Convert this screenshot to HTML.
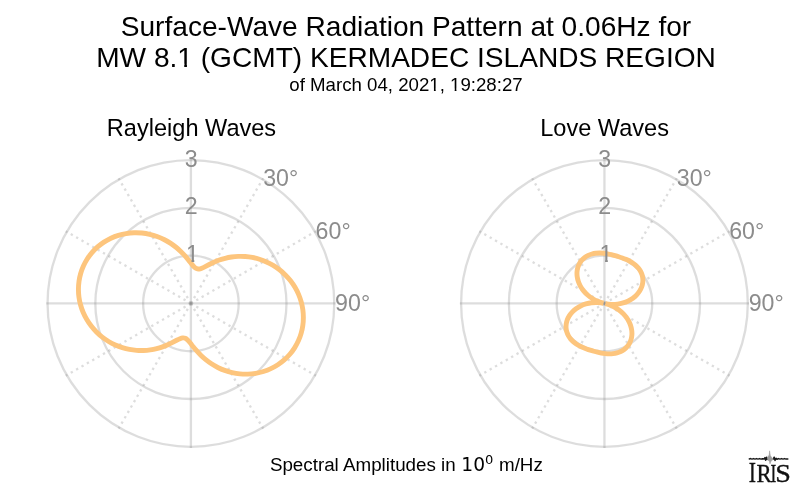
<!DOCTYPE html>
<html><head><meta charset="utf-8"><title>Surface-Wave Radiation Pattern</title>
<style>
html,body{margin:0;padding:0;background:#fff;}
svg{display:block}
text{font-family:"Liberation Sans",sans-serif;}
</style></head><body>
<svg width="800" height="493" viewBox="0 0 800 493">
<rect width="800" height="493" fill="#fff"/>
<g fill="#000" text-anchor="middle">
<text id="t1" x="406" y="36.2" font-size="28.1">Surface-Wave Radiation Pattern at 0.06Hz for</text>
<text id="t2" x="406" y="66.5" font-size="28.1">MW 8.1 (GCMT) KERMADEC ISLANDS REGION</text>
<text id="t3" x="406" y="90.6" font-size="18.67">of March 04, 2021, 19:28:27</text>
<text id="t4" x="191.5" y="136.3" font-size="23.55">Rayleigh Waves</text>
<text id="t5" x="604.6" y="136.3" font-size="23.55">Love Waves</text>
</g>
<g fill="#fff"><rect x="178.42" y="63.69" width="5.82" height="4.50"/><rect x="186.94" y="63.69" width="5.62" height="4.50"/><rect x="430.06" y="88.73" width="3.86" height="2.99"/><rect x="435.71" y="88.73" width="3.73" height="2.99"/><rect x="450.80" y="88.73" width="3.86" height="2.99"/><rect x="456.45" y="88.73" width="3.73" height="2.99"/></g>
<g fill="none" stroke="#808080" stroke-opacity="0.27" stroke-width="2.3">
<path d="M190.90,303.45L190.90,158.90"/>
<path d="M190.90,303.45L263.17,178.27" stroke-dasharray="2.34 3.86"/>
<path d="M190.90,303.45L316.08,231.17" stroke-dasharray="2.34 3.86"/>
<path d="M190.90,303.45L335.45,303.45"/>
<path d="M190.90,303.45L316.08,375.72" stroke-dasharray="2.34 3.86"/>
<path d="M190.90,303.45L263.17,428.63" stroke-dasharray="2.34 3.86"/>
<path d="M190.90,303.45L190.90,448.00"/>
<path d="M190.90,303.45L118.62,428.63" stroke-dasharray="2.34 3.86"/>
<path d="M190.90,303.45L65.72,375.73" stroke-dasharray="2.34 3.86"/>
<path d="M190.90,303.45L46.35,303.45"/>
<path d="M190.90,303.45L65.72,231.17" stroke-dasharray="2.34 3.86"/>
<path d="M190.90,303.45L118.62,178.27" stroke-dasharray="2.34 3.86"/>
<circle cx="190.9" cy="303.45" r="47.78"/>
<circle cx="190.9" cy="303.45" r="95.57"/>
<circle cx="190.9" cy="303.45" r="143.35"/>
</g>
<path d="M201.80,268.22C202.82,267.81 203.95,267.25 205.18,266.61C206.42,265.96 207.77,265.24 209.23,264.49C210.69,263.74 212.26,262.96 213.94,262.21C215.62,261.46 217.40,260.73 219.28,260.06C221.16,259.40 223.13,258.79 225.18,258.27C227.23,257.75 229.35,257.33 231.54,257.01C233.73,256.69 235.98,256.48 238.27,256.39C240.56,256.31 242.89,256.35 245.24,256.52C247.60,256.70 249.97,257.01 252.35,257.46C254.73,257.91 257.10,258.51 259.46,259.25C261.82,259.99 264.15,260.87 266.45,261.90C268.74,262.93 271.00,264.10 273.18,265.41C275.37,266.72 277.49,268.18 279.53,269.76C281.57,271.35 283.52,273.07 285.36,274.91C287.21,276.75 288.95,278.71 290.56,280.79C292.17,282.86 293.66,285.04 295.00,287.31C296.34,289.59 297.54,291.95 298.58,294.39C299.62,296.82 300.50,299.33 301.21,301.89C301.93,304.45 302.47,307.05 302.83,309.69C303.19,312.32 303.37,314.98 303.36,317.64C303.36,320.29 303.17,322.95 302.80,325.58C302.43,328.22 301.87,330.82 301.13,333.38C300.40,335.93 299.48,338.43 298.38,340.86C297.29,343.28 296.02,345.63 294.60,347.87C293.17,350.11 291.58,352.26 289.85,354.28C288.11,356.30 286.23,358.19 284.23,359.95C282.22,361.70 280.09,363.31 277.86,364.77C275.62,366.22 273.29,367.52 270.87,368.65C268.46,369.78 265.96,370.74 263.42,371.52C260.87,372.31 258.27,372.92 255.65,373.35C253.03,373.78 250.39,374.04 247.74,374.12C245.10,374.20 242.46,374.11 239.85,373.85C237.24,373.59 234.66,373.17 232.14,372.59C229.61,372.01 227.14,371.28 224.74,370.42C222.35,369.55 220.03,368.55 217.81,367.44C215.59,366.32 213.47,365.10 211.46,363.79C209.44,362.48 207.54,361.09 205.76,359.65C203.98,358.21 202.32,356.71 200.78,355.21C199.25,353.71 197.84,352.20 196.55,350.73C195.26,349.26 194.08,347.82 193.01,346.48C191.94,345.14 190.98,343.89 190.08,342.79C189.19,341.69 188.37,340.74 187.58,339.98C186.79,339.23 186.04,338.67 185.26,338.33C184.48,337.98 183.68,337.85 182.82,337.93C181.96,338.00 181.03,338.26 180.00,338.68C178.98,339.09 177.85,339.65 176.62,340.29C175.38,340.94 174.03,341.66 172.57,342.41C171.11,343.16 169.54,343.94 167.86,344.69C166.18,345.44 164.40,346.17 162.52,346.84C160.64,347.50 158.67,348.11 156.62,348.63C154.57,349.15 152.45,349.57 150.26,349.89C148.07,350.21 145.82,350.42 143.53,350.51C141.24,350.59 138.91,350.55 136.56,350.38C134.20,350.20 131.83,349.89 129.45,349.44C127.07,348.99 124.70,348.39 122.34,347.65C119.98,346.91 117.65,346.03 115.35,345.00C113.06,343.97 110.80,342.80 108.62,341.49C106.43,340.18 104.31,338.72 102.27,337.14C100.23,335.55 98.28,333.83 96.44,331.99C94.59,330.15 92.85,328.19 91.24,326.11C89.63,324.04 88.14,321.86 86.80,319.59C85.46,317.31 84.26,314.95 83.22,312.51C82.18,310.08 81.30,307.57 80.59,305.01C79.87,302.45 79.33,299.85 78.97,297.21C78.61,294.58 78.43,291.92 78.44,289.26C78.44,286.61 78.63,283.95 79.00,281.32C79.37,278.68 79.93,276.08 80.67,273.52C81.40,270.97 82.32,268.47 83.42,266.04C84.51,263.62 85.78,261.27 87.20,259.03C88.63,256.79 90.22,254.64 91.95,252.62C93.69,250.60 95.57,248.71 97.57,246.95C99.58,245.20 101.71,243.59 103.94,242.13C106.18,240.68 108.51,239.38 110.93,238.25C113.34,237.12 115.84,236.16 118.38,235.38C120.93,234.59 123.53,233.98 126.15,233.55C128.77,233.12 131.41,232.86 134.06,232.78C136.70,232.70 139.34,232.79 141.95,233.05C144.56,233.31 147.14,233.73 149.66,234.31C152.19,234.89 154.66,235.62 157.06,236.48C159.45,237.35 161.77,238.35 163.99,239.46C166.21,240.58 168.33,241.80 170.34,243.11C172.36,244.42 174.26,245.81 176.04,247.25C177.82,248.69 179.48,250.19 181.02,251.69C182.55,253.19 183.96,254.70 185.25,256.17C186.54,257.64 187.72,259.08 188.79,260.42C189.86,261.76 190.82,263.01 191.72,264.11C192.61,265.21 193.43,266.16 194.22,266.92C195.01,267.67 195.76,268.23 196.54,268.57C197.32,268.92 198.12,269.05 198.98,268.97C199.84,268.90 200.77,268.64 201.80,268.22Z" fill="none" stroke="#fdc57d" stroke-width="4.9" stroke-linejoin="round"/>
<g font-size="23.2" fill="#8c8c8c">
<clipPath id="c1_190"><rect x="185.05" y="242.17" width="16" height="17.56"/><rect x="191.50" y="259.38" width="2.78" height="3.08"/></clipPath>
<text x="192.50" y="262.17" text-anchor="middle" clip-path="url(#c1_190)">1</text>
<text x="191.10" y="214.48" text-anchor="middle">2</text>
<text x="191.10" y="167.20" text-anchor="middle">3</text>
<text x="263.20" y="185.55">30°</text>
<text x="315.60" y="238.85">60°</text>
<text x="335.10" y="310.55">90°</text>
</g>
<g fill="none" stroke="#808080" stroke-opacity="0.27" stroke-width="2.3">
<path d="M604.45,303.45L604.45,158.90"/>
<path d="M604.45,303.45L676.73,178.27" stroke-dasharray="2.34 3.86"/>
<path d="M604.45,303.45L729.63,231.17" stroke-dasharray="2.34 3.86"/>
<path d="M604.45,303.45L749.00,303.45"/>
<path d="M604.45,303.45L729.63,375.72" stroke-dasharray="2.34 3.86"/>
<path d="M604.45,303.45L676.73,428.63" stroke-dasharray="2.34 3.86"/>
<path d="M604.45,303.45L604.45,448.00"/>
<path d="M604.45,303.45L532.18,428.63" stroke-dasharray="2.34 3.86"/>
<path d="M604.45,303.45L479.27,375.73" stroke-dasharray="2.34 3.86"/>
<path d="M604.45,303.45L459.90,303.45"/>
<path d="M604.45,303.45L479.27,231.17" stroke-dasharray="2.34 3.86"/>
<path d="M604.45,303.45L532.17,178.27" stroke-dasharray="2.34 3.86"/>
<circle cx="604.45" cy="303.45" r="47.78"/>
<circle cx="604.45" cy="303.45" r="95.57"/>
<circle cx="604.45" cy="303.45" r="143.35"/>
</g>
<path d="M605.37,303.67C607.34,304.15 609.28,304.80 611.15,305.59C613.02,306.38 614.82,307.31 616.52,308.36C618.21,309.42 619.81,310.60 621.28,311.88C622.74,313.17 624.08,314.55 625.28,316.01C626.47,317.46 627.51,318.99 628.39,320.56C629.27,322.13 629.99,323.74 630.55,325.36C631.10,326.98 631.49,328.61 631.71,330.22C631.93,331.83 631.98,333.41 631.88,334.94C631.77,336.48 631.51,337.96 631.11,339.36C630.70,340.76 630.15,342.09 629.48,343.32C628.81,344.55 628.01,345.69 627.12,346.71C626.22,347.74 625.23,348.65 624.16,349.45C623.08,350.25 621.94,350.94 620.74,351.51C619.54,352.08 618.29,352.54 617.01,352.89C615.74,353.24 614.43,353.49 613.11,353.64C611.80,353.80 610.47,353.86 609.15,353.85C607.83,353.84 606.51,353.75 605.20,353.61C603.90,353.47 602.60,353.27 601.33,353.04C600.05,352.80 598.78,352.53 597.53,352.23C596.28,351.93 595.05,351.60 593.82,351.26C592.59,350.91 591.38,350.55 590.17,350.17C588.96,349.78 587.75,349.37 586.56,348.94C585.37,348.51 584.18,348.04 583.01,347.54C581.84,347.04 580.68,346.49 579.55,345.90C578.41,345.30 577.31,344.65 576.24,343.94C575.18,343.23 574.15,342.45 573.19,341.60C572.23,340.75 571.33,339.83 570.52,338.84C569.71,337.85 568.98,336.78 568.36,335.65C567.74,334.52 567.23,333.32 566.84,332.07C566.46,330.82 566.21,329.51 566.09,328.18C565.98,326.84 566.02,325.46 566.21,324.08C566.40,322.69 566.74,321.30 567.25,319.92C567.76,318.54 568.42,317.17 569.25,315.85C570.07,314.53 571.06,313.26 572.19,312.06C573.32,310.86 574.60,309.74 576.00,308.71C577.41,307.69 578.95,306.76 580.60,305.96C582.25,305.16 584.00,304.49 585.83,303.95C587.66,303.42 589.57,303.03 591.53,302.79C593.49,302.55 595.49,302.47 597.50,302.55C599.51,302.63 601.53,302.86 603.53,303.26 M603.53,303.23C601.56,302.75 599.62,302.10 597.75,301.31C595.88,300.52 594.08,299.59 592.38,298.54C590.69,297.48 589.09,296.30 587.62,295.02C586.16,293.73 584.82,292.35 583.62,290.89C582.43,289.44 581.39,287.91 580.51,286.34C579.63,284.77 578.91,283.16 578.35,281.54C577.80,279.92 577.41,278.29 577.19,276.68C576.97,275.07 576.92,273.49 577.02,271.96C577.13,270.42 577.39,268.94 577.79,267.54C578.20,266.14 578.75,264.81 579.42,263.58C580.09,262.35 580.89,261.21 581.78,260.19C582.68,259.16 583.67,258.25 584.74,257.45C585.82,256.65 586.96,255.96 588.16,255.39C589.36,254.82 590.61,254.36 591.89,254.01C593.16,253.66 594.47,253.41 595.79,253.26C597.10,253.10 598.43,253.04 599.75,253.05C601.07,253.06 602.39,253.15 603.70,253.29C605.00,253.43 606.30,253.63 607.57,253.86C608.85,254.10 610.12,254.37 611.37,254.67C612.62,254.97 613.85,255.30 615.08,255.64C616.31,255.99 617.52,256.35 618.73,256.73C619.94,257.12 621.15,257.53 622.34,257.96C623.53,258.39 624.72,258.86 625.89,259.36C627.06,259.86 628.22,260.41 629.35,261.00C630.49,261.60 631.59,262.25 632.66,262.96C633.72,263.67 634.75,264.45 635.71,265.30C636.67,266.15 637.57,267.07 638.38,268.06C639.19,269.05 639.92,270.12 640.54,271.25C641.16,272.38 641.67,273.58 642.06,274.83C642.44,276.08 642.69,277.39 642.81,278.72C642.92,280.06 642.88,281.44 642.69,282.82C642.50,284.21 642.16,285.60 641.65,286.98C641.14,288.36 640.48,289.73 639.65,291.05C638.83,292.37 637.84,293.64 636.71,294.84C635.58,296.04 634.30,297.16 632.90,298.19C631.49,299.21 629.95,300.14 628.30,300.94C626.65,301.74 624.90,302.41 623.07,302.95C621.24,303.48 619.33,303.87 617.37,304.11C615.41,304.35 613.41,304.43 611.40,304.35C609.39,304.27 607.37,304.04 605.37,303.64" fill="none" stroke="#fdc57d" stroke-width="4.9" stroke-linejoin="round"/>
<g font-size="23.2" fill="#8c8c8c">
<clipPath id="c1_604"><rect x="598.60" y="242.17" width="16" height="17.56"/><rect x="605.05" y="259.38" width="2.78" height="3.08"/></clipPath>
<text x="606.05" y="262.17" text-anchor="middle" clip-path="url(#c1_604)">1</text>
<text x="604.65" y="214.48" text-anchor="middle">2</text>
<text x="604.65" y="167.20" text-anchor="middle">3</text>
<text x="676.75" y="185.55">30°</text>
<text x="729.15" y="238.85">60°</text>
<text x="748.65" y="310.55">90°</text>
</g>
<g id="t6" fill="#000" font-size="18.8"><text x="269.9" y="471.3">Spectral Amplitudes in</text><text x="461.3" y="471.3" font-size="18.67" style="font-family:'DejaVu Sans',sans-serif">10</text><text x="484.9" y="464.1" font-size="13.07" style="font-family:'DejaVu Sans',sans-serif">0</text><text x="499.0" y="471.3">m/Hz</text></g>
<g id="iris">
<path d="M749.3,458.9 L750.5,458.6 L752,459.1 L753.5,458.6 L755,459.1 L756.5,458.6 L758,459.1 L759.5,458.6 L761,459.1 L762.5,458.7 L764,459 L765,457.6 L765.6,460.2 L766.6,457.2 L767.3,459.4 M773.2,459.2 L774.2,457.2 L775,460.4 L776,458.2 L777,459.3 L778.5,458.6 L780,459.1 L781.5,458.6 L783,459.1 L784.5,458.6 L786,459.1 L787.8,458.9" stroke="#1a1a1a" stroke-width="1.5" fill="none" stroke-linejoin="round" stroke-linecap="round"/>
<path d="M767.3,459.2 L768.3,455.6 L769,457 L769.6,450.8 L770.3,455.4 L771.2,456.8 L772.3,458.2 L773.3,459.2 L771.8,460.4 L770.8,461.8 L770,463.9 L769.4,461.4 L768.4,460.4 Z" fill="#9c9c9c" stroke="#9c9c9c" stroke-width="0.5" stroke-linejoin="round"/>
<text y="481.9" fill="#111" stroke="#111" stroke-width="0.35" style="font-family:'Liberation Serif',serif"><tspan x="748.69" font-size="30.1" textLength="7.22" lengthAdjust="spacingAndGlyphs">I</tspan><tspan x="756.52" font-size="25.2" textLength="15.13" lengthAdjust="spacingAndGlyphs">R</tspan><tspan x="770.39" font-size="25.2" textLength="5.79" lengthAdjust="spacingAndGlyphs">I</tspan><tspan x="775.22" font-size="25.2" textLength="15.65" lengthAdjust="spacingAndGlyphs">S</tspan></text>
</g>
</svg>
</body></html>
